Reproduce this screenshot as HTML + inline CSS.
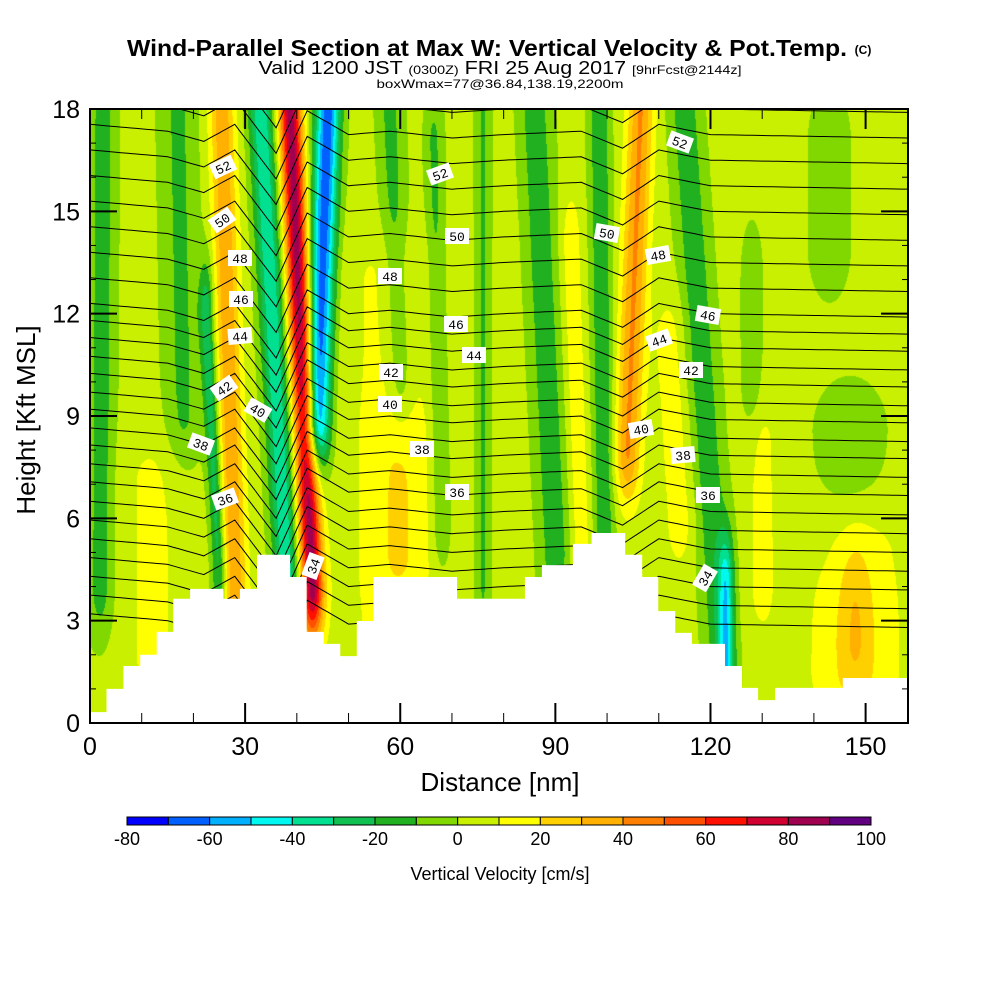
<!DOCTYPE html>
<html><head><meta charset="utf-8">
<style>
html,body{margin:0;padding:0;background:#fff;}
#wrap{position:relative;width:1000px;height:1000px;overflow:hidden;font-family:"Liberation Sans",sans-serif;}
canvas{position:absolute;left:90px;top:109px;}
svg{position:absolute;left:0;top:0;}
</style></head>
<body>
<div id="wrap">
<canvas id="field" width="818" height="614"></canvas>
<svg id="svg" width="1000" height="1000">
  <defs><clipPath id="clip"><rect x="90" y="109" width="818" height="614"/></clipPath></defs>
  <text x="127" y="56" font-size="23" font-weight="bold" textLength="720" lengthAdjust="spacingAndGlyphs">Wind-Parallel Section at Max W: Vertical Velocity &amp; Pot.Temp.</text>
  <text x="863" y="54" text-anchor="middle" font-size="12" font-weight="bold">(C)</text>
  <text x="500" y="74" text-anchor="middle" font-size="18" textLength="483" lengthAdjust="spacingAndGlyphs">Valid 1200 JST <tspan font-size="12">(0300Z)</tspan> FRI 25 Aug 2017 <tspan font-size="12">[9hrFcst@2144z]</tspan></text>
  <text x="500" y="88" text-anchor="middle" font-size="12" textLength="247" lengthAdjust="spacingAndGlyphs">boxWmax=77@36.84,138.19,2200m</text>
  <g id="contours" clip-path="url(#clip)"></g>
  <g id="terrain"></g>
  <g id="labels"></g>
  <g id="axes"></g>
  <g id="cbar"></g>
  <text x="500" y="791" text-anchor="middle" font-size="26">Distance [nm]</text>
  <text transform="translate(35,420) rotate(-90)" text-anchor="middle" font-size="26">Height [Kft MSL]</text>
  <text x="500" y="880" text-anchor="middle" font-size="18">Vertical Velocity [cm/s]</text>
</svg>
</div>
<script>
// ---- data ----
const xMax = 158.2, zMax = 18;
const xTicks = [0,30,60,90,120,150];
const yTicks = [0,3,6,9,12,15,18];
const cbLevels = [-80,-70,-60,-50,-40,-30,-20,-10,0,10,20,30,40,50,60,70,80,90,100];
const cbLabels = [-80,-60,-40,-20,0,20,40,60,80,100];
const cbColors = ["#0000ff","#0060ff","#00b0ff","#00f8f0","#00e090","#10c050","#20b020","#80d800","#c8f000","#ffff00","#ffd000","#ffb000","#ff8000","#ff5000","#ff1000","#d00030","#a00050","#600080"];
const baseW = 3;
// features of vertical velocity: x at top/bottom (nm), z range (kft), amplitude (cm/s), width (nm)
const fXTop = [2.5,17,12,25.5,22.5,33,38.7,46,58,66.5,58,76,86,93,98.5,106.5,115,123,112,143,147,148,128,130,60,148];
const fXBot = [2,18,12,28,25,38,43,44,60,68,58,76,90,95,99.5,104,122,123,114,143,147,148,128,130,60,148];
const fZBot = [4,9,2,4,4.5,4.5,4,9,10,6,3,4,5,5,5,8,2,1.5,6,14,5.5,1.5,10,4,5,2.5];
const fZTop = [18,18,7,18,12,18,18,18,18,17,13,18,18,14,18,18,18,4,11,17,8.5,5,13,8,8,4];
const fAmp = [-18,-15,9,35,-30,-42,82,-70,-16,-15,9,-14,-20,14,-22,38,-20,-40,12,-9,-9,17,-10,10,10,12];
const fWid = [2.5,3.5,6,2.4,1.4,2.4,2.2,2.4,2.5,1.8,10,1.5,3,2,2,2.5,3,1.5,3,4,7,9,2,3,5,3];
// terrain steps
const terrX = [0,3.2,6.45,9.7,12.9,16.1,19.35,25.8,29.0,32.3,38.7,41.9,45.2,48.4,51.6,54.8,71,84.1,87.4,93.4,97,103.5,106.8,109.9,113.2,116.4,119.5,122.8,126.1,129.2,132.5,145.6];
const terrH = [0.32,1.0,1.67,2.0,2.67,3.64,3.93,3.64,3.93,4.93,4.28,2.67,2.32,1.96,2.99,4.28,3.64,4.28,4.63,5.25,5.57,4.93,4.28,3.28,2.64,2.32,2.32,1.67,1.03,0.67,1.03,1.32];
// potential temperature lines
const thetaLevels = [29,30,31,32,33,34,35,36,37,38,39,40,41,42,43,44,45,46,47,48,49,50,51,52,53,54,55];
const thetaBaseZ = [2.9,3.45,4.0,4.55,5.1,5.65,6.2,6.77,7.3,7.85,8.35,8.9,9.4,9.95,10.45,11.0,11.5,12.0,12.75,13.5,14.25,15.0,15.75,16.5,17.25,18.0,18.75];
const dispNm = [0,15,22,28,36,42,50,58,70,80,95,103,110,120,158.2];
const dispKft = [0.3,0.1,-0.2,0.3,-1.3,0.7,0,0.1,-0.1,0,0.1,-0.4,0.3,0,-0.1];
const labelText = ["52","50","48","46","44","42","40","38","36","34","52","50","48","46","44","42","40","38","36","52","50","48","46","44","42","40","38","36","34"];
const labelPx = [[223,167],[222,220],[240,258],[241,299],[240,336],[224,388],[258,410],[201,444],[225,499],[313,566],[440,174],[457,236],[390,276],[456,324],[474,355],[391,372],[390,404],[422,449],[457,492],[680,142],[607,233],[658,255],[708,315],[659,340],[691,370],[641,429],[683,455],[708,495],[705,578]];
const labelRot = [-25,-35,0,0,-5,-35,30,20,-20,-70,-20,0,0,0,0,0,0,0,0,20,10,-10,10,-20,0,-10,-5,0,-60];

// ---- scales ----
const X0=90,X1=908,Y0=723,Y1=109;
const sx = v => X0 + v/xMax*(X1-X0);
const sy = v => Y0 - v/zMax*(Y0-Y1);
const NS="http://www.w3.org/2000/svg";
function mk(tag, attrs, parent){const e=document.createElementNS(NS,tag);for(const k in attrs)e.setAttribute(k,attrs[k]);parent.appendChild(e);return e;}

// ---- field ----
function wAt(x,z){
  let v=baseW;
  for(let i=0;i<fAmp.length;i++){
    const zb=fZBot[i], zt=fZTop[i];
    let f=(z-zb)/(zt-zb); f=Math.max(0,Math.min(1,f));
    const xc=fXBot[i]+(fXTop[i]-fXBot[i])*f;
    let t=1; if(z<zb)t=Math.exp(-Math.pow((zb-z)/1.6,2)); else if(z>zt)t=Math.exp(-Math.pow((z-zt)/1.6,2));
    const d=(x-xc)/fWid[i];
    v+=fAmp[i]*t*Math.exp(-d*d);
  }
  return v;
}
const rgb = cbColors.map(h=>[parseInt(h.substr(1,2),16),parseInt(h.substr(3,2),16),parseInt(h.substr(5,2),16)]);
const cv=document.getElementById('field'), ctx=cv.getContext('2d');
const img=ctx.createImageData(818,614);
for(let py=0;py<614;py++){
  const z=(614-py-0.5)/614*zMax;
  for(let px=0;px<818;px++){
    const x=(px+0.5)/818*xMax;
    const v=wAt(x,z);
    let k=Math.floor((v-cbLevels[0])/10); k=Math.max(0,Math.min(17,k));
    const o=(py*818+px)*4, c=rgb[k];
    img.data[o]=c[0];img.data[o+1]=c[1];img.data[o+2]=c[2];img.data[o+3]=255;
  }
}
ctx.putImageData(img,0,0);

// ---- contours ----
function disp(x){
  for(let i=0;i<dispNm.length-1;i++){
    if(x>=dispNm[i]&&x<=dispNm[i+1]){const f=(x-dispNm[i])/(dispNm[i+1]-dispNm[i]);return dispKft[i]+(dispKft[i+1]-dispKft[i])*f;}
  }
  return 0;
}
const cg=document.getElementById('contours');
thetaLevels.forEach((th,i)=>{
  let pts=[];
  for(let x=0;x<=xMax+0.5;x+=1){
    const z=thetaBaseZ[i]+disp(Math.min(x,xMax));
    pts.push(sx(x).toFixed(1)+","+sy(z).toFixed(1));
  }
  const p=mk('polyline',{points:pts.join(' '),fill:'none',stroke:'#000','stroke-width':1},cg);
  
  
});

// ---- terrain ----
const tg=document.getElementById('terrain');
let tp=[sx(0)+","+sy(0)];
for(let i=0;i<terrX.length;i++){
  const xe=(i<terrX.length-1)?terrX[i+1]:xMax;
  tp.push(sx(terrX[i]).toFixed(1)+","+sy(terrH[i]).toFixed(1));
  tp.push(sx(xe).toFixed(1)+","+sy(terrH[i]).toFixed(1));
}
tp.push(sx(xMax)+","+sy(0));
const terr=mk('polygon',{points:tp.join(' '),fill:'#fff',stroke:'none'},tg);



// ---- contour labels ----
const lg=document.getElementById('labels');
labelText.forEach((t,i)=>{
  const [x,y]=labelPx[i];
  const g=mk('g',{transform:`translate(${x},${y}) rotate(${labelRot[i]})`},lg);
  
  
  mk('rect',{x:-12,y:-8,width:24,height:16,fill:'#fff'},g);
  const tx=mk('text',{x:0,y:5,'text-anchor':'middle','font-size':13,'font-family':'Liberation Mono, monospace'},g);
  tx.textContent=t;
});

// ---- axes ----
const ag=document.getElementById('axes');
const frame=mk('rect',{x:X0,y:Y1,width:X1-X0,height:Y0-Y1,fill:'none',stroke:'#000','stroke-width':2},ag);


for(let v=0;v<=xMax;v+=10){
  const x=sx(v), L=(v%30===0)?20:10;
  mk('line',{x1:x,y1:Y0,x2:x,y2:Y0-L,stroke:'#000','stroke-width':(v%30===0)?2:1},ag);
  mk('line',{x1:x,y1:Y1,x2:x,y2:Y1+L,stroke:'#000','stroke-width':(v%30===0)?2:1},ag);
}
for(let v=0;v<=zMax;v+=1){
  const y=sy(v), L=(v%3===0)?27:6;
  mk('line',{x1:X0,y1:y,x2:X0+L,y2:y,stroke:'#000','stroke-width':(v%3===0)?2:1},ag);
  mk('line',{x1:X1,y1:y,x2:X1-L,y2:y,stroke:'#000','stroke-width':(v%3===0)?2:1},ag);
}
xTicks.forEach(v=>{
  const t=mk('text',{x:sx(v),y:755,'text-anchor':'middle','font-size':25},ag);
  t.textContent=v;
  
  
});
yTicks.forEach(v=>{
  const t=mk('text',{x:80,y:sy(v)+9,'text-anchor':'end','font-size':25},ag);
  t.textContent=v;
  
  
});

// ---- colorbar ----
const bg=document.getElementById('cbar');
const CB0=127,CB1=871,cw=(CB1-CB0)/cbColors.length;
cbColors.forEach((c,i)=>{
  const r=mk('rect',{x:CB0+i*cw,y:817,width:cw,height:8,fill:c,stroke:'#000','stroke-width':1},bg);
  
  
});
cbLabels.forEach(v=>{
  const t=mk('text',{x:CB0+(v-cbLevels[0])/10*cw,y:845,'text-anchor':'middle','font-size':18},bg);
  t.textContent=v;
  
  
});
</script>
</body></html>
